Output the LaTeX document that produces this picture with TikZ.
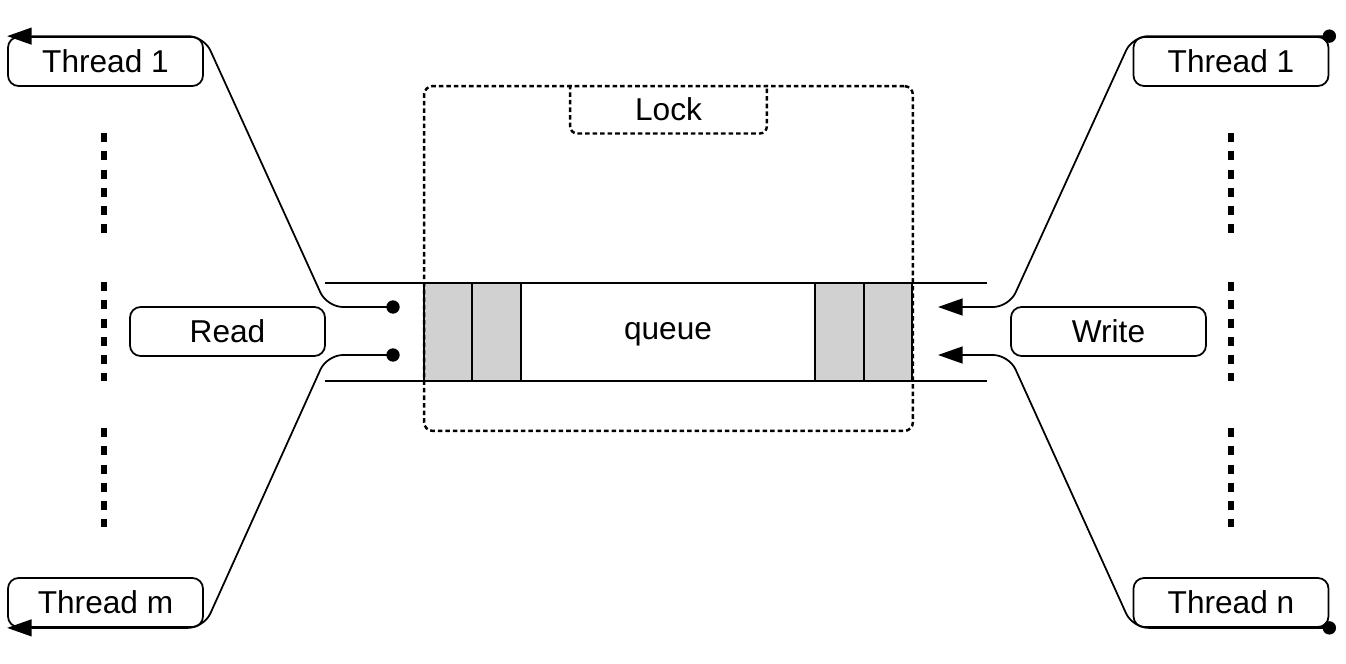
\documentclass[tikz,border=0pt]{standalone}
\usepackage{fontspec}
\setmainfont{Liberation Sans}
\usetikzlibrary{arrows.meta}

\begin{document}
\begin{tikzpicture}[x=0.02cm, y=-0.02cm,
  box/.style={draw, line width=1pt, rounded corners=6pt, minimum width=3.9cm,
    minimum height=0.98cm, inner sep=0pt, font=\fontsize{18}{21}\selectfont},
  wire/.style={line width=1pt, rounded corners=9pt},
  tip/.style={-{Triangle[length=14pt, width=9.6pt]}},
  cell/.style={draw, line width=1pt, fill=black!18, minimum width=0.97cm,
    minimum height=1.96cm, inner sep=0pt},
  lockline/.style={line width=1.4pt, dash pattern=on 2.6pt off 1.7pt},
  threaddots/.style={line width=3pt, dash pattern=on 5.1pt off 5.3pt}]
  \useasboundingbox (0,0) rectangle (1346,663);

  % thread boxes
  \node[box] (tl1) at (105.5,61.5) {Thread 1};
  \node[box] (tlm) at (105.5,602.5) {Thread m};
  \node[box] (tr1) at (1231,61.5) {Thread 1};
  \node[box] (trn) at (1231,602.5) {Thread n};
  \node[box] (read) at (227.5,331.5) {Read};
  \node[box] (write) at (1108.5,331.5) {Write};

  % dotted thread columns
  \foreach \x in {104,1231}
    \foreach \ya/\yb in {133/233, 282/381, 428/527}
      \draw[threaddots] (\x,\ya) -- (\x,\yb);

  % queue
  \draw[line width=1pt] (325,283) -- (987,283);
  \draw[line width=1pt] (325,381) -- (987,381);
  \foreach \x/\n in {448/1, 496.5/2, 839.5/3, 888/4}
    \node[cell] (cell\n) at (\x,332) {};
  \node[font=\fontsize{18}{21}\selectfont] (queue) at (668,334) {queue};

  % lock
  \node[draw, lockline, rounded corners=5pt, minimum width=9.78cm,
    minimum height=6.9cm, inner sep=0pt] (lockarea) at (668.5,258.5) {};
  \node[minimum width=3.92cm, minimum height=0.96cm, inner sep=0pt,
    anchor=north, font=\fontsize{18}{21}\selectfont] (lock) at (lockarea.north) {Lock};
  \draw[lockline, rounded corners=4pt] (lock.north west) -- (lock.south west)
    -- (lock.south east) -- (lock.north east);

  % read / write ends
  \coordinate (rd1) at (393,307);
  \coordinate (rd2) at (393,355);
  \coordinate (rb1) at (327,307);
  \coordinate (rb2) at (327,355);
  \coordinate (wr1) at (938,307);
  \coordinate (wr2) at (938,355);
  \coordinate (wb1) at (1009,307);
  \coordinate (wb2) at (1009,355);

  \draw[wire, tip] (rd1) -- (rb1) -- (tl1.north east) -- (tl1.north west);
  \draw[wire, tip] (rd2) -- (rb2) -- (tlm.south east) -- (tlm.south west);
  \draw[wire, tip] (tr1.north east) -- (tr1.north west) -- (wb1) -- (wr1);
  \draw[wire, tip] (trn.south east) -- (trn.south west) -- (wb2) -- (wr2);

  \fill (rd1) circle (3.8pt);
  \fill (rd2) circle (3.8pt);
  \fill (tr1.north east) circle (3.8pt);
  \fill (trn.south east) circle (3.8pt);
\end{tikzpicture}
\end{document}
